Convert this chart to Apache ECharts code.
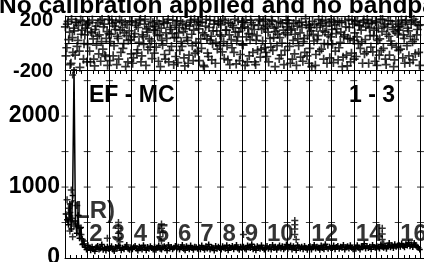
<!DOCTYPE html>
<html>
<head>
<meta charset="utf-8">
<script src="https://cdn.jsdelivr.net/npm/echarts@6/dist/echarts.min.js"></script>
<style>
  html, body { margin: 0; padding: 0; background: #fff; }
  #chart { width: 424px; height: 262px; }
</style>
</head>
<body>
<div id="chart"></div>
<script>
const FONT = '"Liberation Sans", Arial, Helvetica, sans-serif';

// IF layout (16 channels per IF)
const ifStarts = [0, 16, 32, 48, 64, 80, 96, 112, 128, 144, 160, 176, 192, 208, 224, 240, 256];
const ifLabels = ['', '2', '3', '4', '5', '6', '7', '8', '9', '10', '', '12', '', '14', '', '16'];
const polLabel = '(LR)';
const ampTicks = [500, 1000, 1500, 2000, 2500];
const ampLabelTicks = [0, 1000, 2000];
const phaseLabelTicks = [-200, 200];

// phase per channel (degrees), two records per channel
const phases = [
  120, -35, 160, 80, -150, 40, 110, -90, 150, 20, -60, 170, 95, -120, 60, 135,
  -10, 155, -140, 75, 30, -170, 125, 50, -80, 165, 10, -45, 140, -100, 85, 175,
  -130, 65, 145, -20, 100, -160, 35, 170, -70, 115, -5, 150, 55, -140, 90, 25,
  160, -110, 70, 130, -50, 5, 175, -95, 45, 140, -165, 80, 120, -30, 15, 150,
  -75, 95, 165, -135, 60, 110, -15, 145, -120, 35, 175, -55, 100, 70, -160, 130,
  40, -145, 115, 160, -25, 85, -170, 135, 20, -90, 155, 65, -130, 175, 5, -60,
  105, 150, -40, 75, -175, 125, 30, -100, 170, 50, -5, 140, -150, 90, 160, -20,
  135, -65, 10, 165, 95, -125, 60, 145, -35, 115, 175, -155, 45, 85, -85, 155,
  -15, 120, 170, -140, 70, 25, 150, -70, 100, -160, 55, 130, 165, -45, 15, 110,
  175, -100, 80, 140, -30, 160, 40, -175, 120, 65, -115, 150, 0, 95, -55, 170,
  60, 145, -150, 105, 20, -80, 165, 125, -20, 75, 155, -135, 35, 180, -95, 130,
  -40, 90, 160, 15, -165, 115, 55, -60, 145, 170, -120, 80, 125, -10, 150, 45,
  100, -145, 135, 70, 165, -35, 5, 155, -105, 60, 120, -170, 175, 30, -75, 140,
  -120, 160, 45, -5, 130, 95, -150, 170, 25, -65, 145, 110, -30, 165, 55, -135,
  150, 20, -90, 175, 85, -40, 140, -160, 115, 50, 165, -15, 100, -125, 160, 70,
  -55, 125, 170, -110, 35, 155, -20, 90, -145, 140, 10, 175, -80, 60, 130, -165
];
const phases2 = [
  -95, 140, 25, -160, 175, -70, 90, 155, -25, 130, -180, 65, 160, -5, 110, -140,
  145, -60, 85, 170, -120, 100, -15, 150, 60, -135, 175, 120, -90, 35, -165, 70,
  10, 170, -95, 125, 155, 50, -120, 95, 160, -40, 75, -175, 135, 20, 165, -80,
  -150, 45, 150, -75, 115, 165, -140, 60, -10, 175, 105, -50, 30, 160, -115, 95,
  125, -30, 55, 140, -175, 20, 160, -85, 75, 150, -140, 115, -25, 170, 40, -100,
  165, 75, -55, 10, 145, -110, 105, 40, -150, 125, 170, -20, 95, -75, 135, 160,
  -130, 30, 155, -165, 60, 175, -75, 115, 20, -125, 90, 165, 5, -45, 145, 60,
  50, 175, -115, 95, -20, 150, -160, 25, 130, -70, 80, 15, 165, -130, 110, -10,
  155, -165, 45, 110, -95, 170, 65, 135, -140, 20, -55, 175, -105, 100, 160, -35,
  -70, 125, -140, 35, 170, -55, 110, 85, -20, 160, 40, -90, 145, -160, 75, 120,
  170, -25, 95, -120, 145, 65, -165, 30, 150, -105, 115, 10, -70, 135, 55, -150,
  115, -175, 65, 140, -85, 25, 175, 130, -45, 90, -5, 160, -150, 60, -110, 175,
  -10, 160, -60, 105, -125, 150, 80, -175, 45, 165, -90, 35, 115, -140, 170, 20,
  75, -100, 165, 130, -40, 10, 155, -80, 120, 175, -150, 55, 145, -65, 95, 160,
  -165, 110, 30, -55, 175, 125, -120, 65, 165, -90, 15, 140, -175, 85, -30, 120,
  95, -45, 140, 60, -150, 170, 110, -95, 50, 165, -125, 25, 155, 100, -70, 135
];

// amplitude per channel
const amps = [
  620, 540, 470, 760, 410, 880, 2650, 520, 350, 600, 280, 430, 190, 240, 150, 120,
  180, 140, 110, 160, 125, 95, 150, 170, 120, 135, 190, 115, 145, 105, 160, 130,
  140, 165, 120, 100, 155, 135, 175, 150, 110, 145, 125, 160, 185, 130, 115, 150,
  125, 150, 170, 135, 105, 160, 140, 120, 180, 145, 110, 155, 130, 165, 140, 120,
  160, 115, 145, 175, 130, 120, 150, 165, 140, 105, 185, 135, 155, 125, 145, 170,
  135, 160, 120, 150, 185, 130, 110, 165, 145, 125, 175, 140, 115, 160, 150, 130,
  150, 125, 175, 140, 115, 165, 135, 190, 120, 155, 145, 105, 170, 130, 160, 140,
  120, 165, 145, 130, 180, 110, 155, 140, 170, 125, 150, 185, 135, 115, 160, 145,
  160, 135, 120, 175, 150, 140, 195, 125, 155, 110, 165, 145, 130, 180, 140, 120,
  145, 170, 130, 155, 120, 185, 140, 160, 115, 150, 175, 135, 165, 125, 145, 190,
  130, 155, 175, 120, 165, 140, 110, 180, 150, 135, 160, 125, 170, 145, 115, 155,
  165, 120, 150, 185, 135, 160, 145, 115, 175, 140, 125, 195, 150, 130, 160, 140,
  140, 175, 125, 155, 170, 130, 160, 145, 185, 120, 150, 165, 135, 180, 145, 125,
  155, 130, 180, 145, 120, 165, 150, 200, 135, 170, 140, 160, 125, 185, 155, 145,
  170, 150, 135, 190, 160, 145, 175, 130, 165, 210, 150, 180, 140, 195, 160, 175,
  185, 160, 205, 170, 150, 195, 175, 220, 165, 190, 155, 210, 180, 160, 145, 120
];

// extra amplitude points (channel, amplitude)
const ampOutliers = [
  [5, 2580], [1, 820], [2, 700], [3, 640], [4, 960], [5, 560], [7, 480], [8, 740], [9, 600],
  [10, 420], [11, 330], [2, 520], [3, 380], [5, 300], [6, 450], [12, 260], [13, 200],
  [30, 280], [38, 500], [38, 420], [38, 350], [38, 290], [39, 230],
  [69, 480], [69, 420], [70, 360], [68, 300], [69, 240],
  [128, 330],
  [165, 530], [165, 470], [165, 410], [165, 330], [166, 260],
  [228, 420], [228, 340], [228, 260], [229, 200]
];

// plus-shaped symbol, n units wide with arm thickness t
const plus = (n, t) => {
  const h = (n - t) / 2;
  return 'path://M0,' + h + 'h' + n + 'v' + t + 'h-' + n + 'z M' + h + ',0h' + t + 'v' + n + 'h-' + t + 'z';
};

const labelStyle = { color: '#000', fontFamily: FONT, fontWeight: 'bold' };

const chart = echarts.init(document.getElementById('chart'));

chart.setOption({
  animation: false,
  backgroundColor: '#fff',
  grid: [
    { left: 65, right: -2, top: 16, height: 54, outerBoundsMode: 'none' },
    { left: 65, right: -2, top: 70, height: 188, outerBoundsMode: 'none' }
  ],
  xAxis: [
    {
      gridIndex: 0, type: 'value', min: 0, max: 260, interval: 16, position: 'bottom',
      axisLine: { show: true, lineStyle: { color: '#000', width: 1 } },
      axisTick: { show: false },
      axisLabel: { show: false },
      splitLine: { show: true, lineStyle: { color: '#000', width: 1 } }
    },
    {
      gridIndex: 1, type: 'value', min: 0, max: 260, interval: 4, position: 'bottom',
      axisLine: { show: true, lineStyle: { color: '#000', width: 1 } },
      axisTick: { show: true, inside: true, length: 3, lineStyle: { color: '#000' } },
      axisLabel: { show: false },
      splitLine: { show: false }
    },
    {
      gridIndex: 1, type: 'value', min: 0, max: 260, interval: 16, position: 'top',
      axisLine: { show: true, lineStyle: { color: '#000', width: 1 } },
      axisTick: { show: true, inside: true, length: 4, lineStyle: { color: '#000' } },
      minorTick: { show: true, splitNumber: 4, length: 4, lineStyle: { color: '#000' } },
      axisLabel: { show: false },
      splitLine: { show: true, lineStyle: { color: '#000', width: 1 } }
    }
  ],
  yAxis: [
    {
      gridIndex: 0, type: 'value', min: -200, max: 200, interval: 200,
      axisLine: { show: true, lineStyle: { color: '#000', width: 1 } },
      axisTick: { show: false },
      splitLine: { show: true, lineStyle: { color: '#000', width: 1 } },
      axisLabel: Object.assign({
        fontSize: 20, margin: 12,
        formatter: v => !phaseLabelTicks.includes(v) ? '' : (v > 0 ? '{hi|' + v + '}' : '{lo|' + v + '}'),
        rich: {
          hi: { fontSize: 20, fontWeight: 'bold', fontFamily: FONT, color: '#000', padding: [8, 0, 0, 0] },
          lo: { fontSize: 20, fontWeight: 'bold', fontFamily: FONT, color: '#000', padding: [2, 0, 0, 0] }
        }
      }, labelStyle)
    },
    {
      gridIndex: 1, type: 'value', min: 0, max: 2650, interval: 500,
      axisLine: { show: true, lineStyle: { color: '#000', width: 1 } },
      axisTick: { show: false },
      splitLine: { show: false },
      axisLabel: Object.assign({
        fontSize: 23, margin: 5,
        formatter: v => ampLabelTicks.includes(v) ? String(v) : ''
      }, labelStyle)
    }
  ],
  series: [
    {
      name: 'phase', type: 'scatter', xAxisIndex: 0, yAxisIndex: 0,
      symbol: plus(9, 1.7), symbolSize: 9,
      itemStyle: { color: '#000' },
      data: phases.map((p, i) => [i + 0.3, p])
    },
    {
      name: 'phase 2', type: 'scatter', xAxisIndex: 0, yAxisIndex: 0,
      symbol: plus(9, 1.7), symbolSize: 9,
      itemStyle: { color: '#000' },
      data: phases2.map((p, i) => [i + 0.7, p])
    },
    {
      name: 'amplitude', type: 'line', xAxisIndex: 1, yAxisIndex: 1,
      symbol: plus(6, 1.5), symbolSize: 6, showSymbol: true,
      lineStyle: { color: '#000', width: 1.5 },
      itemStyle: { color: '#000' },
      data: amps.map((a, i) => [i + 0.5, a])
    },
    {
      name: 'amplitude extra', type: 'scatter', xAxisIndex: 1, yAxisIndex: 1,
      symbol: plus(7, 1.5), symbolSize: 7,
      itemStyle: { color: '#000' },
      data: ampOutliers.map(d => [d[0] + 0.5, d[1]])
    },
    {
      name: 'if ticks', type: 'scatter', xAxisIndex: 1, yAxisIndex: 1,
      symbol: 'rect', symbolSize: [7, 1], silent: true,
      itemStyle: { color: '#000' },
      data: ifStarts.flatMap(s => ampTicks.map(t => [s, t]))
    },
    {
      name: 'if labels', type: 'scatter', xAxisIndex: 1, yAxisIndex: 1,
      symbolSize: 0, silent: true,
      label: Object.assign({
        show: true, position: 'right', distance: 2, fontSize: 24,
        formatter: p => p.data[2]
      }, labelStyle),
      data: ifLabels.map((t, k) => [ifStarts[k], 340, t]).concat([[0, 660, polLabel]])
    }
  ],
  graphic: [
    {
      type: 'text', left: -1, top: -6,
      style: { text: 'No calibration applied and no bandpass', font: 'bold 24.5px ' + FONT, fill: '#000' }
    },
    {
      type: 'text', left: 89, top: 84,
      style: { text: 'EF - MC', font: 'bold 23px ' + FONT, fill: '#000' }
    },
    {
      type: 'text', left: 349, top: 84,
      style: { text: '1 - 3', font: 'bold 23px ' + FONT, fill: '#000' }
    }
  ]
});
</script>
</body>
</html>
